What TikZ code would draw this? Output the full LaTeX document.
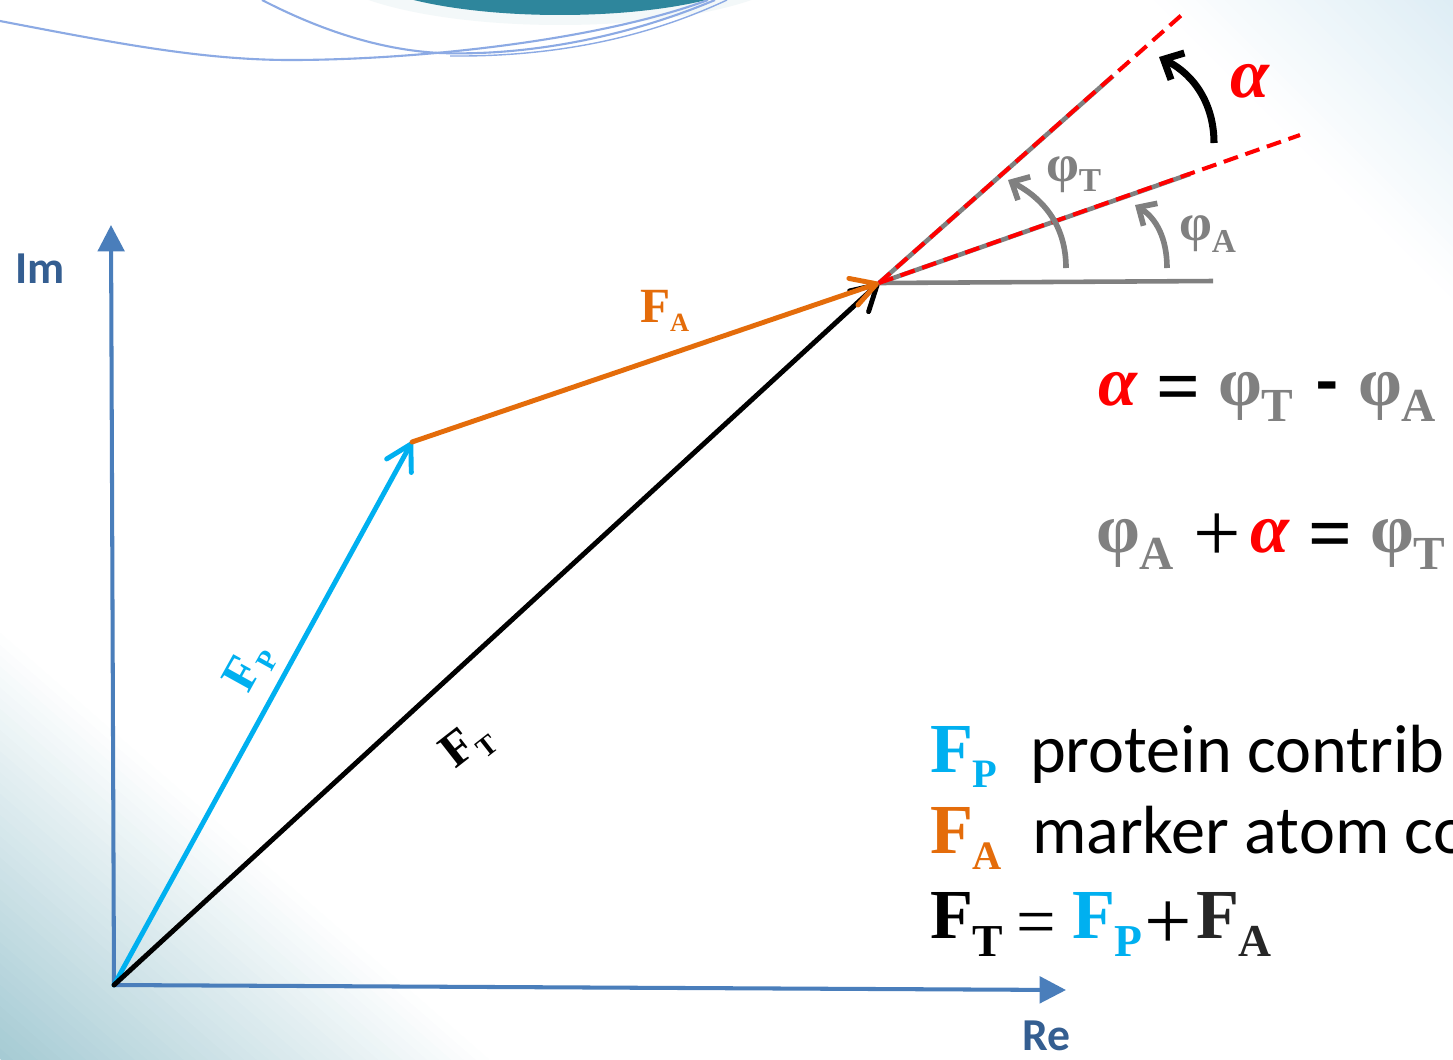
\documentclass[tikz,border=0pt]{standalone}
\usepackage{fontspec}
\setmainfont{Liberation Serif}
\newfontfamily\calib{Carlito}
\usetikzlibrary{arrows.meta}
\definecolor{axisblue}{RGB}{74,126,187}
\definecolor{labblue}{RGB}{52,94,145}
\definecolor{fpcyan}{RGB}{0,176,240}
\definecolor{faorange}{RGB}{228,108,10}
\definecolor{phigray}{RGB}{128,128,128}
\definecolor{bgteal}{RGB}{166,203,212}
\definecolor{bgtint}{RGB}{222,237,245}
\definecolor{topteal}{RGB}{46,134,156}
\definecolor{curveblue}{RGB}{140,170,228}
\definecolor{fadark}{RGB}{38,38,38}
\newcommand\fs[1]{\fontsize{#1}{#1}\selectfont}
\newcommand\sbs[3]{\raisebox{-#1}{\fs{#2}#3}}
\begin{document}
\begin{tikzpicture}[x=0.02cm,y=-0.02cm,
  axis/.style={axisblue, line width=2.3pt, -{Triangle[length=15pt,width=15pt]}},
  vec/.style={line width=2.8pt, line cap=round, -{Straight Barb[length=14pt,width=16pt,round]}},
  gline/.style={phigray, line width=2.6pt},
  rdash/.style={red, line width=2.3pt, dash pattern=on 8.5pt off 4.5pt},
  garc/.style={phigray, line width=3.2pt, -{Straight Barb[length=8pt,width=15pt]}},
  aarc/.style={black, line width=4pt, -{Straight Barb[length=9pt,width=17pt]}},
  t/.style={anchor=base west, inner sep=0pt, outer sep=0pt},
  deco/.style={curveblue, line width=1.2pt}]
\useasboundingbox (0,0) rectangle (1453,1059);
% background
\begin{scope}
\clip (0,0) rectangle (1453,1059);
\fill[white] (0,0) rectangle (1453,1059);
\begin{scope}[shift={(0,1059)}, rotate=-41.1]
\foreach \i in {0,...,39}{
  \pgfmathtruncatemacro\p{100*(1-\i/40)}
  \fill[bgteal!\p!white] (-900,{-\i*8}) rectangle (900,{-(\i+1)*8-1});
}
\end{scope}
\begin{scope}[shift={(1453,0)}, rotate=135]
\foreach \i in {0,...,29}{
  \pgfmathtruncatemacro\p{100*(1-\i/30)}
  \fill[bgtint!\p!white] (-700,{-\i*7}) rectangle (700,{-(\i+1)*7-1});
}
\end{scope}
\fill[topteal!6!white] (560,-38) ellipse [x radius=4.8cm, y radius=1.26cm];
\fill[topteal] (560,-38) ellipse [x radius=4.2cm, y radius=1.06cm];
\draw[deco] (0,21) .. controls (110,42) and (200,60) .. (290,60) .. controls (420,60) and (600,40) .. (708,0);
\draw[deco] (262,0) .. controls (320,30) and (380,50) .. (440,53) .. controls (520,56) and (620,40) .. (715,0);
\draw[deco, line width=0.8pt] (450,56) .. controls (560,57) and (650,36) .. (727,0);
\end{scope}
% coordinates
\coordinate (O) at (114,985);
\coordinate (ImTip) at (111,225);
\coordinate (ReTip) at (1066,990);
\coordinate (P) at (412,442);
\coordinate (T) at (879,283);
\coordinate (Hend) at (1213,281);
\coordinate (GT) at (1113,76);
\coordinate (GA) at (1190,174);
\coordinate (RT) at (1185,12);
\coordinate (RA) at (1300,135);
\coordinate (phT0) at (1066,268);
\coordinate (phT1) at (1008,180);
\coordinate (phA0) at (1167,268);
\coordinate (phA1) at (1135,205);
\coordinate (al0) at (1214,143);
\coordinate (al1) at (1159,57);
% axes
\draw[axis] (O) -- (ImTip);
\draw[axis] (O) -- (ReTip);
% vectors
\draw[vec, fpcyan] (O) -- (P);
\draw[vec, black] (O) -- (T);
\draw[vec, faorange] (P) -- (T);
% angle construction
\draw[gline] (T) -- (Hend);
\draw[gline] (T) -- (GT);
\draw[gline] (T) -- (GA);
\draw[rdash] (T) -- (RT);
\draw[rdash] (T) -- (RA);
\draw[garc] (phT0) .. controls (1066,228) and (1046,200) .. (phT1);
\draw[garc] (phA0) .. controls (1167,238) and (1156,218) .. (phA1);
\draw[aarc] (al0) .. controls (1214,105) and (1195,75) .. (al1);
% axis labels
\node[t, text=labblue] (Imlab) at (15,283) {\calib\bfseries\fs{26}Im};
\node[t, text=labblue] (Relab) at (1022,1050) {\calib\bfseries\fs{26}Re};
% vector labels
\node[t, text=faorange] (labA) at (640,322) {\bfseries\fs{28}F\sbs{5.5pt}{15}{A}};
\node[inner sep=0pt, text=fpcyan, rotate=61] (labP) at (250,668) {\bfseries\fs{28}F\sbs{5.5pt}{16}{P}};
\node[inner sep=0pt, text=black, rotate=38] (labT) at (468,746) {\bfseries\fs{28}F\sbs{5.5pt}{16}{T}};
% angle labels
\node[t, text=phigray] (lphT) at (1046,181) {\bfseries\fs{30}φ\sbs{6pt}{19}{T}};
\node[t, text=phigray] (lphA) at (1179,240) {\bfseries\fs{30}φ\sbs{7pt}{19}{A}};
\node[t, text=red] (lal) at (1230,97) {\bfseries\itshape\fs{40}α};
% equations
\node[t, text=red] (e1a) at (1098,405) {\bfseries\itshape\fs{40}α};
\node[t] (e1eq) at (1156,412) {\bfseries\fs{44}=};
\node[t, text=phigray] (e1pt) at (1218,405) {\bfseries\fs{40}φ\sbs{9.6pt}{27}{T}};
\node[t] (e1mi) at (1316,405) {\calib\bfseries\fs{40}-};
\node[t, text=phigray] (e1pa) at (1358,405) {\bfseries\fs{40}φ\sbs{9.6pt}{27}{A}};
\node[t, text=phigray] (e2pa) at (1096,552) {\bfseries\fs{40}φ\sbs{10pt}{27}{A}};
\node[t] (e2pl) at (1193,561) {\fs{48}+};
\node[t, text=red] (e2a) at (1250,552) {\bfseries\itshape\fs{40}α};
\node[t] (e2eq) at (1308,559) {\bfseries\fs{44}=};
\node[t, text=phigray] (e2pt) at (1370,552) {\bfseries\fs{40}φ\sbs{10pt}{27}{T}};
% legend
\node[t, text=fpcyan] (l1f) at (930,772) {\bfseries\fs{40}F\sbs{9pt}{23}{P}};
\node[t] (l1t) at (1030,772) {\calib\fs{38.8}protein contrib};
\node[t, text=faorange] (l2f) at (930,853) {\bfseries\fs{40}F\sbs{9.6pt}{23}{A}};
\node[t] (l2t) at (1032,853) {\calib\fs{38.8}marker atom co};
\node[t] (l3ft) at (930,938) {\bfseries\fs{40}F\sbs{10.8pt}{26}{T}};
\node[t] (l3eq) at (1016,945) {\fs{40}=};
\node[t, text=fpcyan] (l3fp) at (1072,938) {\bfseries\fs{40}F\sbs{10.8pt}{26}{P}};
\node[t] (l3pl) at (1144,949) {\fs{48}+};
\node[t, text=fadark] (l3fa) at (1196,938) {\bfseries\fs{40}F\sbs{10.8pt}{26}{A}};
\end{tikzpicture}
\end{document}
